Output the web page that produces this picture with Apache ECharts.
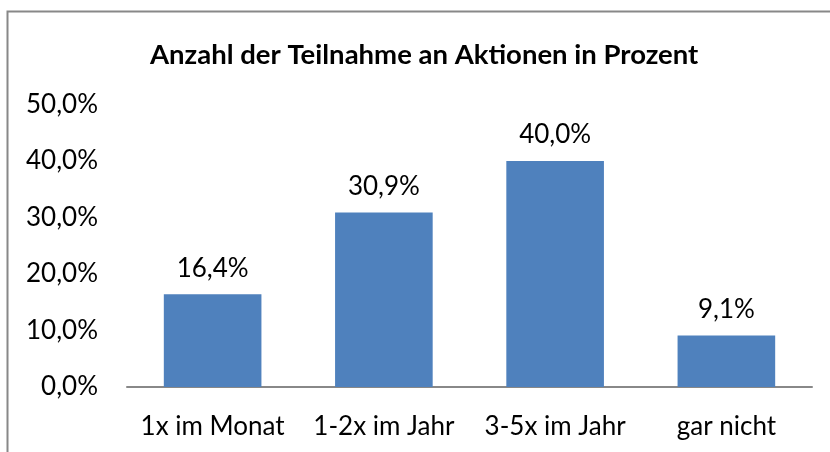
<!DOCTYPE html>
<html><head><meta charset="utf-8">
<script src="https://cdn.jsdelivr.net/npm/echarts@6/dist/echarts.min.js"></script>
<style>html,body{margin:0;padding:0;background:#fff}#c{width:830px;height:452px}</style>
</head><body><div id="c"></div>
<script>
const categories = ['1x im Monat', '1-2x im Jahr', '3-5x im Jahr', 'gar nicht'];
const values = [16.4, 30.9, 40.0, 9.1];
const titleText = 'Anzahl der Teilnahme an Aktionen in Prozent';
const fmt = v => v.toFixed(1).replace('.', ',') + '%';
const FONT = 'Lato, "Open Sans", sans-serif';
const chart = echarts.init(document.getElementById('c'));
chart.setOption({
  animation: false,
  backgroundColor: '#fff',
  graphic: [{type: 'rect', shape: {x: 7.5, y: 11.5, width: 900, height: 600}, style: {fill: 'none', stroke: '#888', lineWidth: 2}, silent: true}],
  title: {text: titleText, left: 145, top: 36, textStyle: {fontFamily: FONT, fontWeight: 'bold', fontSize: 27.5, color: '#000'}},
  grid: {left: 127, right: 18, top: 104.5, bottom: 65, containLabel: false},
  xAxis: {type: 'category', data: categories,
    axisLine: {lineStyle: {color: '#888', width: 2}}, axisTick: {show: false},
    axisLabel: {interval: 0, fontFamily: FONT, fontSize: 26, color: '#000', margin: 27}},
  yAxis: {type: 'value', min: 0, max: 50, interval: 10, splitLine: {show: false},
    axisLine: {show: false}, axisTick: {show: false},
    axisLabel: {fontFamily: FONT, fontSize: 26, color: '#000', margin: 29, formatter: v => fmt(v)}},
  series: [{type: 'bar', data: values, barWidth: '57%', itemStyle: {color: '#4f81bd'},
    label: {show: true, position: 'top', distance: 13, fontFamily: FONT, fontSize: 26, color: '#000', formatter: p => fmt(p.value)}}]
});
</script></body></html>
